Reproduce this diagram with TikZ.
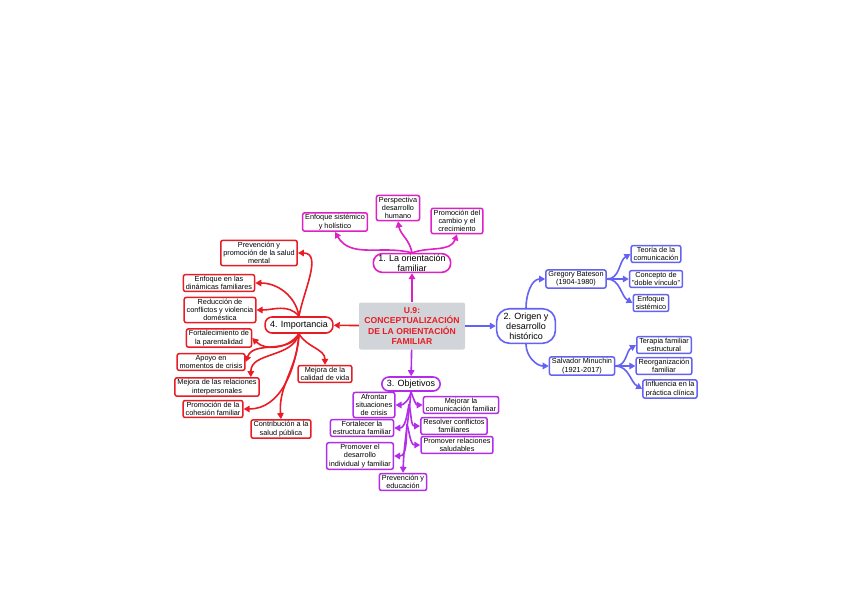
\documentclass[tikz,border=0pt]{standalone}
\usepackage{fontspec}
\setmainfont{Liberation Sans}
\usetikzlibrary{arrows.meta}

\definecolor{pinkc}{RGB}{222,32,196}
\definecolor{bluec}{RGB}{100,98,242}
\definecolor{violc}{RGB}{178,44,234}
\definecolor{redc}{RGB}{232,28,36}
\definecolor{grayc}{RGB}{209,212,217}

\begin{document}
\begin{tikzpicture}[x=1pt,y=1pt]
    \tikzset{
        leaf/.style={draw,rounded corners=2pt,line width=1.5pt,fill=white,align=center,
            inner xsep=2.5pt,inner ysep=1.6pt,font=\fontsize{7.3}{8.3}\selectfont},
        topic/.style={draw,rounded corners=7pt,line width=1.6pt,fill=white,align=center,
            inner xsep=5pt,inner ysep=1pt,font=\fontsize{9}{10}\selectfont},
        link/.style={line width=1.6pt,-{Triangle[length=6pt,width=6.5pt]}}
    }
    \useasboundingbox (0,0) rectangle (848,-600);

    % centre
    \node[fill=grayc,rounded corners=2pt,minimum width=106pt,minimum height=47pt,align=center,
          text=redc,font=\bfseries\fontsize{8.6}{10.4}\selectfont] (central) at (412,-326)
          {U.9:\\CONCEPTUALIZACIÓN\\DE LA ORIENTACIÓN\\FAMILIAR};

    % 1. la orientacion familiar
    \node[topic,draw=pinkc,rounded corners=9pt] (orient) at (412,-263) {1. La orientación\\familiar};
    \node[leaf,draw=pinkc] (enfh) at (335,-222) {Enfoque sistémico\\y holístico};
    \node[leaf,draw=pinkc] (persp) at (398,-208) {Perspectiva\\desarrollo\\humano};
    \node[leaf,draw=pinkc] (promc) at (457,-221) {Promoción del\\cambio y el\\crecimiento};

    % 2. origen y desarrollo historico
    \node[topic,draw=bluec,rounded corners=13pt,inner xsep=7pt,inner ysep=4pt] (orig) at (526,-326) {2. Origen y\\desarrollo\\histórico};
    \node[leaf,draw=bluec] (greg) at (576,-279) {Gregory Bateson\\(1904-1980)};
    \node[leaf,draw=bluec] (teo) at (656,-254) {Teoría de la\\comunicación};
    \node[leaf,draw=bluec] (vin) at (656,-279) {Concepto de\\"doble vínculo"};
    \node[leaf,draw=bluec] (enfs) at (651,-303) {Enfoque\\sistémico};
    \node[leaf,draw=bluec] (salv) at (582,-366) {Salvador Minuchin\\(1921-2017)};
    \node[leaf,draw=bluec] (ter) at (664,-345) {Terapia familiar\\estructural};
    \node[leaf,draw=bluec] (reo) at (664,-366) {Reorganización\\familiar};
    \node[leaf,draw=bluec] (inf) at (670,-389) {Influencia en la\\práctica clínica};

    % 3. objetivos
    \node[topic,draw=violc,minimum height=14pt,inner ysep=0pt] (obj) at (411,-384) {3. Objetivos};
    \node[leaf,draw=violc] (afr) at (374,-405) {Afrontar\\situaciones\\de crisis};
    \node[leaf,draw=violc] (mejc) at (461,-405) {Mejorar la\\comunicación familiar};
    \node[leaf,draw=violc] (fort) at (362,-428) {Fortalecer la\\estructura familiar};
    \node[leaf,draw=violc] (reso) at (454,-426) {Resolver conflictos\\familiares};
    \node[leaf,draw=violc] (desa) at (360,-456) {Promover el\\desarrollo\\individual y familiar};
    \node[leaf,draw=violc] (rela) at (457,-445) {Promover relaciones\\saludables};
    \node[leaf,draw=violc] (pedu) at (403,-482) {Prevención y\\educación};
    \coordinate (trunk1) at (409,-404);
    \coordinate (trunk2) at (407,-424);

    % 4. importancia
    \node[topic,draw=redc,minimum height=16pt] (imp) at (299,-325) {4. Importancia};
    \node[leaf,draw=redc] (psm) at (259,-253) {Prevención y\\promoción de la salud\\mental};
    \node[leaf,draw=redc] (dina) at (219,-283) {Enfoque en las\\dinámicas familiares};
    \node[leaf,draw=redc] (redu) at (220,-310) {Reducción de\\conflictos y violencia\\doméstica};
    \node[leaf,draw=redc] (pare) at (219,-338) {Fortalecimiento de\\la parentalidad};
    \node[leaf,draw=redc] (apo) at (211,-362) {Apoyo en\\momentos de crisis};
    \node[leaf,draw=redc] (inter) at (217,-387) {Mejora de las relaciones\\interpersonales};
    \node[leaf,draw=redc] (cohe) at (213,-409) {Promoción de la\\cohesión familiar};
    \node[leaf,draw=redc] (salp) at (281,-429) {Contribución a la\\salud pública};
    \node[leaf,draw=redc] (cali) at (325,-374) {Mejora de la\\calidad de vida};

    % main branches
    \draw[link,pinkc] (central) -- (orient);
    \draw[link,bluec] (central) -- (orig);
    \draw[link,violc] (central) -- (obj);
    \draw[link,redc] (central) -- (imp);

    % orientacion
    \draw[link,pinkc] (orient.north) to[out=165,in=-60] (enfh.south);
    \draw[link,pinkc] (orient.north) to[out=100,in=-80] (persp.south);
    \draw[link,pinkc] (orient.north) to[out=20,in=-110] (promc.south);

    % origen
    \draw[link,bluec] (orig.north) to[out=90,in=180] (greg.west);
    \draw[link,bluec] (orig.south) to[out=-90,in=180] (salv.west);
    \draw[link,bluec] (greg.east) to[out=0,in=210] (teo.west);
    \draw[link,bluec] (greg.east) -- (vin.west);
    \draw[link,bluec] (greg.east) to[out=0,in=150] (enfs.west);
    \draw[link,bluec] (salv.east) to[out=0,in=210] (ter.west);
    \draw[link,bluec] (salv.east) -- (reo.west);
    \draw[link,bluec] (salv.east) to[out=0,in=150] (inf.west);

    % objetivos
    \draw[link,violc] (obj.south) to[out=265,in=88] (pedu.north);
    \draw[link,violc] (obj.south) to[out=260,in=0] (afr.east);
    \draw[link,violc] (obj.south) to[out=-70,in=180] (mejc.west);
    \draw[link,violc] (trunk1) to[out=260,in=0] (fort.east);
    \draw[link,violc] (trunk1) to[out=-75,in=180] (reso.west);
    \draw[link,violc] (trunk2) to[out=265,in=0] (desa.east);
    \draw[link,violc] (trunk2) to[out=-75,in=180] (rela.west);

    % importancia
    \draw[link,redc] (imp.north) to[out=80,in=0] (psm.east);
    \draw[link,redc] (imp.north) to[out=100,in=0] (dina.east);
    \draw[link,redc] (imp.north) to[out=130,in=0] (redu.east);
    \draw[link,redc] (imp.south) to[out=235,in=-45] (pare.east);
    \draw[link,redc] (imp.south) to[out=245,in=70] (apo.east);
    \draw[link,redc] (imp.south) to[out=255,in=90] ([xshift=-9pt]inter.north east);
    \draw[link,redc] (imp.south) to[out=265,in=0] (cohe.east);
    \draw[link,redc] (imp.south) to[out=268,in=95] (salp.north);
    \draw[link,redc] (imp.south) to[out=-60,in=90] (cali.north);
\end{tikzpicture}
\end{document}
